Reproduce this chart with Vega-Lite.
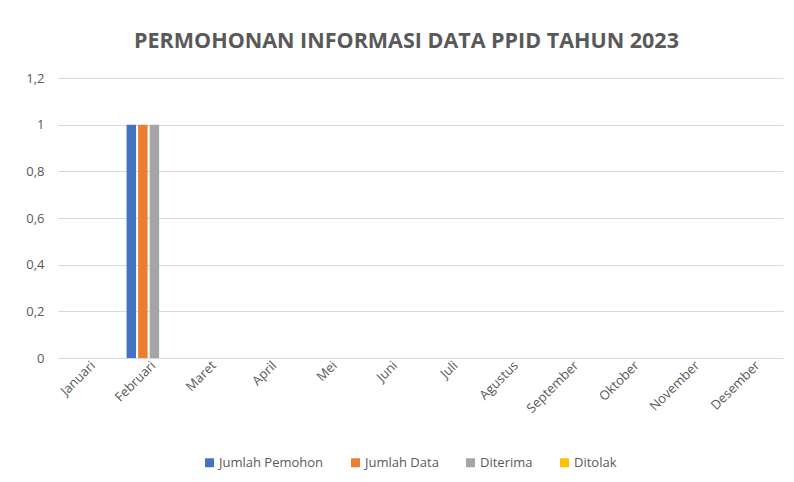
{
  "$schema": "https://vega.github.io/schema/vega-lite/v6.json",
  "width": 725,
  "height": 280,
  "autosize": {"type": "none"},
  "padding": {"left": 58, "top": 78, "right": 11, "bottom": 124},
  "background": "white",
  "config": {
    "locale": {"number": {"decimal": ",", "thousands": ".", "grouping": [3], "currency": ["", ""]}},
    "font": "Open Sans",
    "view": {"stroke": null}
  },
  "title": {
    "text": "PERMOHONAN INFORMASI DATA PPID TAHUN 2023",
    "font": "Open Sans",
    "fontSize": 21.5,
    "fontWeight": "bold",
    "color": "#595959",
    "anchor": "middle",
    "dx": -14,
    "offset": 20
  },
  "data": {
    "values": [
      {"bulan": "Januari", "seri": "Jumlah Pemohon", "nilai": 0},
      {"bulan": "Januari", "seri": "Jumlah Data", "nilai": 0},
      {"bulan": "Januari", "seri": "Diterima", "nilai": 0},
      {"bulan": "Januari", "seri": "Ditolak", "nilai": 0},
      {"bulan": "Februari", "seri": "Jumlah Pemohon", "nilai": 1},
      {"bulan": "Februari", "seri": "Jumlah Data", "nilai": 1},
      {"bulan": "Februari", "seri": "Diterima", "nilai": 1},
      {"bulan": "Februari", "seri": "Ditolak", "nilai": 0},
      {"bulan": "Maret", "seri": "Jumlah Pemohon", "nilai": 0},
      {"bulan": "Maret", "seri": "Jumlah Data", "nilai": 0},
      {"bulan": "Maret", "seri": "Diterima", "nilai": 0},
      {"bulan": "Maret", "seri": "Ditolak", "nilai": 0},
      {"bulan": "April", "seri": "Jumlah Pemohon", "nilai": 0},
      {"bulan": "April", "seri": "Jumlah Data", "nilai": 0},
      {"bulan": "April", "seri": "Diterima", "nilai": 0},
      {"bulan": "April", "seri": "Ditolak", "nilai": 0},
      {"bulan": "Mei", "seri": "Jumlah Pemohon", "nilai": 0},
      {"bulan": "Mei", "seri": "Jumlah Data", "nilai": 0},
      {"bulan": "Mei", "seri": "Diterima", "nilai": 0},
      {"bulan": "Mei", "seri": "Ditolak", "nilai": 0},
      {"bulan": "Juni", "seri": "Jumlah Pemohon", "nilai": 0},
      {"bulan": "Juni", "seri": "Jumlah Data", "nilai": 0},
      {"bulan": "Juni", "seri": "Diterima", "nilai": 0},
      {"bulan": "Juni", "seri": "Ditolak", "nilai": 0},
      {"bulan": "Juli", "seri": "Jumlah Pemohon", "nilai": 0},
      {"bulan": "Juli", "seri": "Jumlah Data", "nilai": 0},
      {"bulan": "Juli", "seri": "Diterima", "nilai": 0},
      {"bulan": "Juli", "seri": "Ditolak", "nilai": 0},
      {"bulan": "Agustus", "seri": "Jumlah Pemohon", "nilai": 0},
      {"bulan": "Agustus", "seri": "Jumlah Data", "nilai": 0},
      {"bulan": "Agustus", "seri": "Diterima", "nilai": 0},
      {"bulan": "Agustus", "seri": "Ditolak", "nilai": 0},
      {"bulan": "September", "seri": "Jumlah Pemohon", "nilai": 0},
      {"bulan": "September", "seri": "Jumlah Data", "nilai": 0},
      {"bulan": "September", "seri": "Diterima", "nilai": 0},
      {"bulan": "September", "seri": "Ditolak", "nilai": 0},
      {"bulan": "Oktober", "seri": "Jumlah Pemohon", "nilai": 0},
      {"bulan": "Oktober", "seri": "Jumlah Data", "nilai": 0},
      {"bulan": "Oktober", "seri": "Diterima", "nilai": 0},
      {"bulan": "Oktober", "seri": "Ditolak", "nilai": 0},
      {"bulan": "November", "seri": "Jumlah Pemohon", "nilai": 0},
      {"bulan": "November", "seri": "Jumlah Data", "nilai": 0},
      {"bulan": "November", "seri": "Diterima", "nilai": 0},
      {"bulan": "November", "seri": "Ditolak", "nilai": 0},
      {"bulan": "Desember", "seri": "Jumlah Pemohon", "nilai": 0},
      {"bulan": "Desember", "seri": "Jumlah Data", "nilai": 0},
      {"bulan": "Desember", "seri": "Diterima", "nilai": 0},
      {"bulan": "Desember", "seri": "Ditolak", "nilai": 0}
    ]
  },
  "mark": {"type": "bar"},
  "encoding": {
    "x": {
      "field": "bulan",
      "type": "nominal",
      "sort": null,
      "title": null,
      "scale": {"paddingInner": 0.27, "paddingOuter": 0.135},
      "axis": {
        "labelAngle": -45,
        "labelAlign": "right",
        "labelBaseline": "middle",
        "labelColor": "#595959",
        "labelFont": "Open Sans",
        "labelFontSize": 13,
        "labelPadding": 5,
        "labelOffset": 5,
        "ticks": false,
        "domainColor": "#d9d9d9",
        "domainWidth": 1
      }
    },
    "xOffset": {
      "field": "seri",
      "type": "nominal",
      "sort": ["Jumlah Pemohon", "Jumlah Data", "Diterima", "Ditolak"],
      "scale": {"paddingInner": 0.18, "paddingOuter": 0}
    },
    "y": {
      "field": "nilai",
      "type": "quantitative",
      "title": null,
      "scale": {"domain": [0, 1.2], "nice": false},
      "axis": {
        "values": [0, 0.2, 0.4, 0.6, 0.8, 1, 1.2],
        "format": "~g",
        "domain": false,
        "ticks": false,
        "labelColor": "#595959",
        "labelFont": "Open Sans",
        "labelFontSize": 13,
        "labelPadding": 14,
        "gridColor": "#d9d9d9",
        "gridWidth": 1
      }
    },
    "color": {
      "field": "seri",
      "type": "nominal",
      "title": null,
      "scale": {
        "domain": ["Jumlah Pemohon", "Jumlah Data", "Diterima", "Ditolak"],
        "range": ["#4472C4", "#ED7D31", "#A5A5A5", "#FFC000"]
      },
      "legend": {
        "orient": "none",
        "legendX": 145,
        "legendY": 378,
        "direction": "horizontal",
        "symbolType": "square",
        "symbolSize": 80,
        "symbolStrokeWidth": 0,
        "labelColor": "#595959",
        "labelFont": "Open Sans",
        "labelFontSize": 13,
        "labelOffset": 3,
        "columnPadding": 25
      }
    }
  }
}
